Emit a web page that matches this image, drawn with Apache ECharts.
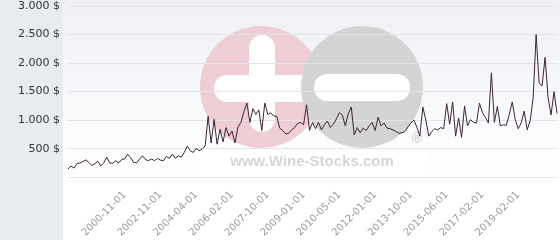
<!DOCTYPE html>
<html><head><meta charset="utf-8">
<script src="https://cdn.jsdelivr.net/npm/echarts@6/dist/echarts.min.js"></script>
<style>html,body{margin:0;padding:0;background:#fff}
#wrap{position:relative;width:560px;height:240px}
#bg,#c{position:absolute;left:0;top:0;width:560px;height:240px}</style>
</head><body><div id="wrap"><div id="bg"></div><div id="c"></div></div>
<script>
// Price series (USD), one value per sale date, left to right
const prices = [
 145,195,160,240,250,275,305,260,205,235,280,200,250,350,250,245,290,250,310,320,405,345,260,250,320,375,310,
 290,320,290,330,300,290,365,330,405,330,375,350,435,545,465,435,505,465,495,550,
 1070,600,1015,580,840,620,870,720,810,600,
 880,960,1150,1300,960,1200,1100,1180,820,1300,1100,1130,1070,1070,860,820,760,770,830,870,940,960,920,1270,820,960,850,960,830,
 920,985,870,930,1020,1130,1090,900,1110,1230,740,870,780,860,820,900,960,820,1050,900,950,860,850,830,800,770,780,800,880,950,
 1000,880,720,1230,1000,720,800,850,830,870,850,1290,930,1320,720,1040,700,1250,900,1010,960,950,1300,1130,1050,950,1830,960,
 1240,900,920,910,1100,1320,1010,850,950,1160,830,990,1390,2500,1650,1600,2100,1400,1090,1500,1120
];
// Dates shown on the x axis
const tickLabels = ['2000-11-01','2002-11-01','2004-04-01','2006-02-01','2007-10-01','2009-01-01',
 '2010-05-01','2012-01-01','2013-10-01','2015-06-01','2017-02-01','2019-02-01'];
const firstLabelIndex = 19, labelEvery = 12;
const yTicks = [0,500,1000,1500,2000,2500,3000];

const categories = prices.map((_, i) => {
  const k = (i - firstLabelIndex) / labelEvery;
  return (i >= firstLabelIndex && Number.isInteger(k) && k < tickLabels.length) ? tickLabels[k] : '';
});

// Background layer: panel, plot shading and watermark (drawn underneath the chart)
const bg = echarts.init(document.getElementById('bg'), null, {renderer:'canvas'});
bg.setOption({
  animation:false,
  backgroundColor:'#ffffff',
  graphic:[
    {type:'rect', z:1, shape:{x:0,y:0,width:63,height:240}, style:{fill:'#e8ecef'}},
    {type:'rect', z:1, shape:{x:63,y:0,width:497,height:178},
      style:{fill:new echarts.graphic.LinearGradient(0,0,0,1,[{offset:0,color:'#eef0f5'},{offset:1,color:'#ffffff'}])}},
    {type:'circle', z:2, shape:{cx:261,cy:87,r:61}, style:{fill:'#eecdd4'}},
    {type:'rect', z:3, shape:{x:214,y:75,width:110,height:27,r:13}, style:{fill:'#ffffff'}},
    {type:'rect', z:3, shape:{x:249,y:35,width:26,height:97,r:13}, style:{fill:'#ffffff'}},
    {type:'circle', z:4, shape:{cx:362,cy:87,r:61}, style:{fill:'#d4d4d4'}},
    {type:'rect', z:5, shape:{x:314,y:74,width:96,height:27,r:13}, style:{fill:'#ffffff'}},
    {type:'rect', z:5, shape:{x:197,y:149,width:230,height:28,r:4}, style:{fill:'#ffffff'}},
    {type:'text', z:6, style:{text:'www.Wine-Stocks.com', x:312, y:162, align:'center', verticalAlign:'middle',
      font:'bold 15px "Liberation Sans"', fill:'#d6d6d6'}},
    {type:'text', z:6, style:{text:'®', x:417, y:139, align:'center', verticalAlign:'middle',
      font:'bold 14px "Liberation Sans"', fill:'#d2d2d2'}}
  ]
});

const chart = echarts.init(document.getElementById('c'), null, {renderer:'canvas'});
chart.setOption({
  animation:false,
  backgroundColor:'transparent',
  grid:{left:68, right:3, top:6, bottom:62},
  xAxis:{
    type:'category', data:categories, boundaryGap:false,
    axisLine:{show:false}, axisTick:{show:false}, splitLine:{show:false},
    axisLabel:{
      interval:(i, v) => v !== '',
      rotate:45, margin:16, color:'#9a9a9a', fontSize:10, fontFamily:'DejaVu Sans'
    }
  },
  yAxis:{
    type:'value', min:yTicks[0], max:yTicks[yTicks.length-1], interval:500,
    axisLine:{show:false}, axisTick:{show:false},
    splitLine:{lineStyle:{color:'#e2e4e8', width:1}},
    axisLabel:{formatter:v => (v===0 ? '' : v.toLocaleString('de-DE') + ' $'), color:'#333', fontSize:11,
      fontFamily:'DejaVu Sans', margin:8}
  },
  series:[{
    type:'line', data:prices, showSymbol:false, symbol:'none',
    lineStyle:{color:'#3b2432', width:1}
  }]
});
</script></body></html>
